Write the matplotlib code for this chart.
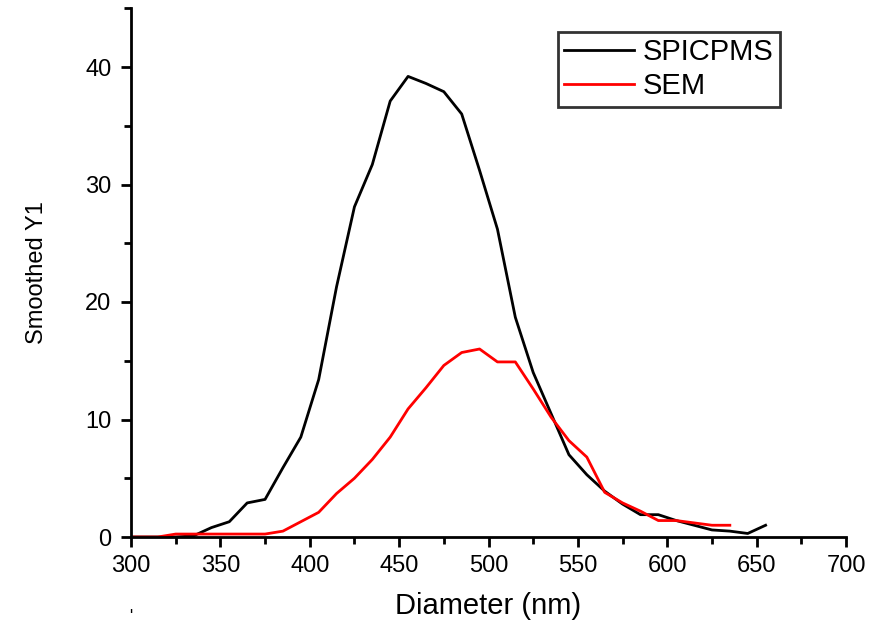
import matplotlib
matplotlib.use("Agg")
import matplotlib.pyplot as plt
from matplotlib.ticker import MultipleLocator

plt.rcParams['font.family'] = ['Liberation Sans', 'DejaVu Sans']

# ----------------------------------------------------------------------
# Data
# ----------------------------------------------------------------------
x_spicpms = [295, 305, 315, 325, 335, 345, 355, 365, 375, 385, 395, 405, 415,
             425, 435, 445, 455, 465, 475, 485, 495, 505, 515, 525, 535, 545,
             555, 565, 575, 585, 595, 605, 615, 625, 635, 645, 655]
y_spicpms = [0, 0, 0, 0, 0.1, 0.8, 1.3, 2.9, 3.2, 5.9, 8.5, 13.4, 21.3,
             28.1, 31.7, 37.1, 39.2, 38.6, 37.9, 36.0, 31.2, 26.2, 18.7, 14.0, 10.5, 7.0,
             5.3, 3.9, 2.8, 1.9, 1.9, 1.4, 1.0, 0.6, 0.5, 0.3, 1.0]

x_sem = [295, 305, 315, 325, 335, 345, 355, 365, 375, 385, 395, 405, 415,
         425, 435, 445, 455, 465, 475, 485, 495, 505, 515, 525, 535, 545,
         555, 565, 575, 585, 595, 605, 615, 625, 635]
y_sem = [0, 0, 0, 0.25, 0.25, 0.25, 0.25, 0.25, 0.25, 0.5, 1.3, 2.1, 3.7,
         5.0, 6.6, 8.5, 10.9, 12.7, 14.6, 15.7, 16.0, 14.9, 14.9, 12.6, 10.2, 8.2,
         6.8, 3.8, 2.9, 2.2, 1.4, 1.4, 1.2, 1.0, 1.0]

# ----------------------------------------------------------------------
# Plot
# ----------------------------------------------------------------------
fig = plt.figure(figsize=(8.75, 6.25), dpi=100)
ax = fig.add_axes([0.1497, 0.1408, 0.8172, 0.846])

ax.plot(x_spicpms, y_spicpms, color='black', lw=2.0, label='SPICPMS')
ax.plot(x_sem, y_sem, color='#ff0000', lw=2.0, label='SEM')

ax.set_xlim(300, 700)
ax.set_ylim(0, 45)
ax.xaxis.set_major_locator(MultipleLocator(50))
ax.xaxis.set_minor_locator(MultipleLocator(25))
ax.yaxis.set_major_locator(MultipleLocator(10))
ax.yaxis.set_minor_locator(MultipleLocator(5))

for s in ['top', 'right']:
    ax.spines[s].set_visible(False)
for s in ['left', 'bottom']:
    ax.spines[s].set_linewidth(2.0)

ax.tick_params(which='major', direction='out', length=7, width=2.0)
ax.tick_params(which='minor', direction='out', length=5, width=2.0)
ax.tick_params(axis='x', which='major', pad=6, labelsize=17)
ax.tick_params(axis='y', which='major', pad=7, labelsize=17)

ax.set_xlabel('Diameter (nm)', fontsize=21, labelpad=11)
ax.set_ylabel('Smoothed Y1', fontsize=17, labelpad=27)

leg = ax.legend(loc='upper left', bbox_to_anchor=(0.597, 0.955), fontsize=21,
                frameon=True, fancybox=False, edgecolor='black',
                handlelength=2.4, handletextpad=0.3, borderpad=0.22,
                labelspacing=0.2, borderaxespad=0)
leg.get_frame().set_linewidth(2.0)

fig.text(0.1497, 0.002, "'", fontsize=12, ha='center', va='bottom')

fig.savefig("out.png", dpi=100)
